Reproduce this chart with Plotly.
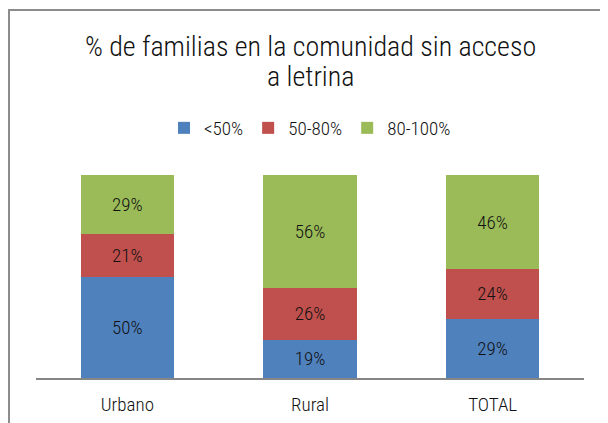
import plotly.graph_objects as go

categories = ["Urbano", "Rural", "TOTAL"]
series_names = ["<50%", "50-80%", "80-100%"]
vals_lt50 = [50, 19, 29]
vals_50_80 = [21, 26, 24]
vals_80_100 = [29, 56, 46]
colors = ["#4F81BD", "#C0504D", "#9BBB59"]
title_lines = ["% de familias en la comunidad sin acceso", "a letrina"]

FONT = "Roboto Condensed, Liberation Sans Narrow, sans-serif"
W = 300
# page has an 8px body margin; coordinates below are in figure px
OFF = 8
L, T, R, B = 36 - OFF, 175 - OFF, 608 - (584 - OFF), 423 - (378 - OFF)
PH = 423 - T - B


def py(px_page):
    return ((423 - B) - (px_page - OFF)) / PH


def px(px_page):
    return ((px_page - OFF) - L) / (608 - L - R)


fig = go.Figure()
for name, vals, col in zip(series_names, [vals_lt50, vals_50_80, vals_80_100], colors):
    fig.add_trace(go.Bar(
        x=categories, y=vals, name=name,
        marker=dict(color=col, line=dict(width=0)),
        text=[f"{v}%" for v in vals],
        textposition="inside", insidetextanchor="middle",
        textfont=dict(family=FONT, size=19, color="#111111", weight=W),
        textangle=0,
    ))

fig.update_layout(
    width=608, height=423,
    barmode="stack", barnorm="percent", bargap=0.49,
    margin=dict(l=L, r=R, t=T, b=B),
    paper_bgcolor="white", plot_bgcolor="white",
    font=dict(family=FONT, color="#111111", weight=W),
    showlegend=True,
    legend=dict(orientation="h", x=0.5, xanchor="center", y=py(128), yanchor="middle",
                font=dict(family=FONT, size=19, color="#111111", weight=W),
                traceorder="normal", itemwidth=30),
    xaxis=dict(showline=True, linecolor="#868686", linewidth=2, ticks="",
               ticklabelstandoff=8,
               tickfont=dict(family=FONT, size=19, color="#111111", weight=W), showgrid=False),
    yaxis=dict(range=[0, 100], visible=False, showgrid=False),
    uniformtext=dict(minsize=19, mode="show"),
)

for line, ypage in zip(title_lines, [46, 76]):
    fig.add_annotation(text=line,
                       xref="paper", yref="paper", x=0.5, y=py(ypage),
                       xanchor="center", yanchor="middle", showarrow=False,
                       font=dict(family=FONT, size=28, color="#111111", weight=W))

fig.add_shape(type="rect", xref="paper", yref="paper",
              x0=px(9), x1=1.2, y0=-0.5, y1=py(10),
              line=dict(color="#8c8c8c", width=2), fillcolor="rgba(0,0,0,0)", layer="below")

fig.write_html("out.html")
